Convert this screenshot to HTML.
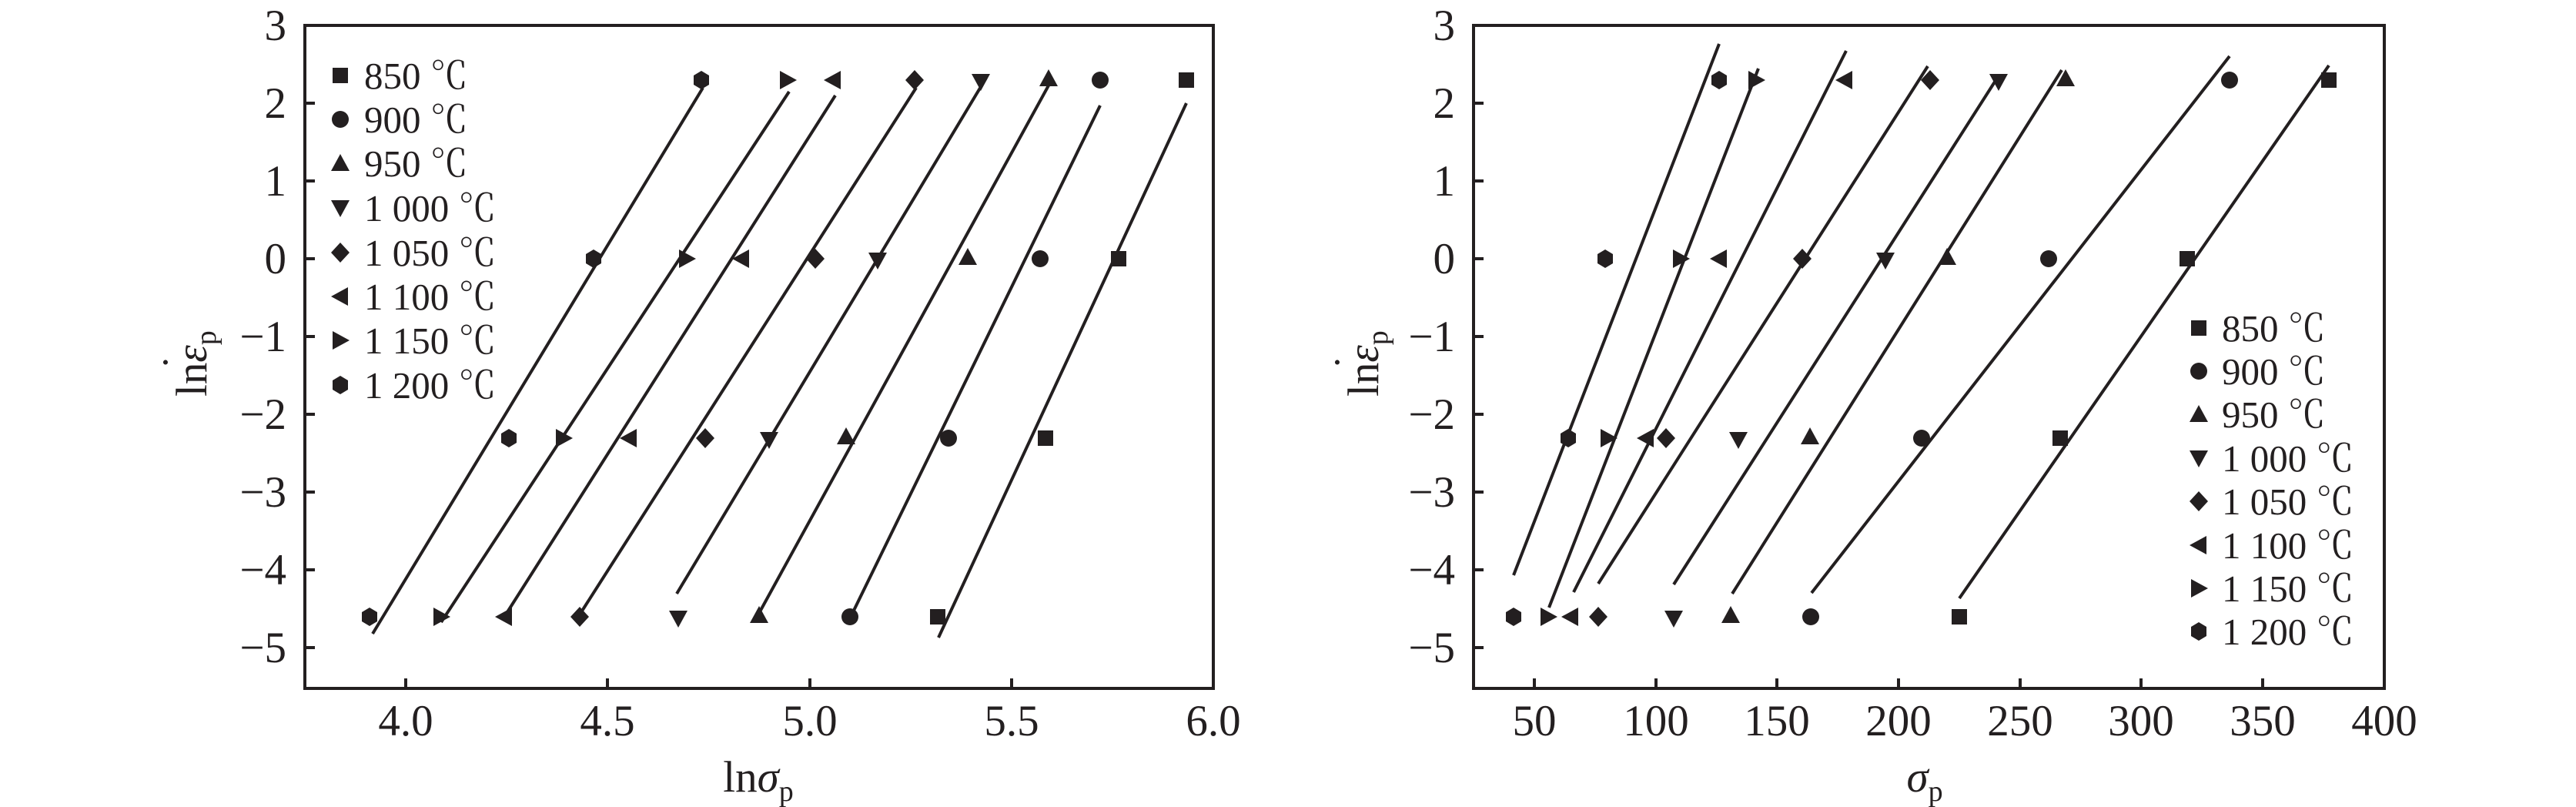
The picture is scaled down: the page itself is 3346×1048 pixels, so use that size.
<!DOCTYPE html>
<html><head><meta charset="utf-8"><style>
html,body{margin:0;padding:0;background:#fff}
svg{display:block}
text{font-family:"Liberation Serif","Noto Serif CJK SC",serif;fill:#231f20}
</style></head><body>
<svg width="3346" height="1048" viewBox="0 0 3346 1048" xmlns="http://www.w3.org/2000/svg">
<defs>
<rect id="sq" x="-10" y="-10" width="20" height="20" fill="#231f20"/>
<circle id="ci" r="11" fill="#231f20"/>
<polygon id="tu" points="0,-12 12,10 -12,10" fill="#231f20"/>
<polygon id="td" points="0,12 12,-10 -12,-10" fill="#231f20"/>
<polygon id="di" points="0,-13 12,0 0,13 -12,0" fill="#231f20"/>
<polygon id="tl" points="-12,0 10,-12 10,12" fill="#231f20"/>
<polygon id="tr" points="12,0 -10,-12 -10,12" fill="#231f20"/>
<polygon id="hx" points="0,-12 10,-6 10,6 0,12 -10,6 -10,-6" fill="#231f20"/>
</defs>
<g stroke="#231f20" stroke-width="4" fill="none">
<rect x="396" y="33" width="1180" height="861"/>
<rect x="1914" y="33" width="1183" height="861"/>
<path d="M396 33h13M396 134h13M396 235h13M396 336h13M396 437h13M396 538h13M396 639h13M396 740h13M396 841h13"/>
<path d="M527 894v-13M789 894v-13M1052 894v-13M1314 894v-13"/>
<path d="M1914 33h13M1914 134h13M1914 235h13M1914 336h13M1914 437h13M1914 538h13M1914 639h13M1914 740h13M1914 841h13"/>
<path d="M1993 894v-13M2151 894v-13M2308 894v-13M2466 894v-13M2624 894v-13M2781 894v-13M2939 894v-13"/>
<path d="M484 823L913 114M573 808L1025 119M657 798L1085 124M753 798L1190 114M879 771L1281 101M985 798L1362 111M1104 803L1429 137M1219 828L1541 134"/>
<path d="M1966 747L2233 57M2012 789L2284 89M2044 769L2398 66M2076 758L2504 86M2174 759L2595 100M2250 771L2678 91M2353 770L2896 73M2545 777L3025 85"/>
</g>
<g font-size="57" text-anchor="end">
<text x="372" y="52">3</text><text x="372" y="153">2</text><text x="372" y="254">1</text><text x="372" y="355">0</text>
<text x="372" y="456">−1</text><text x="372" y="557">−2</text><text x="372" y="658">−3</text><text x="372" y="759">−4</text><text x="372" y="860">−5</text>
<text x="1890" y="52">3</text><text x="1890" y="153">2</text><text x="1890" y="254">1</text><text x="1890" y="355">0</text>
<text x="1890" y="456">−1</text><text x="1890" y="557">−2</text><text x="1890" y="658">−3</text><text x="1890" y="759">−4</text><text x="1890" y="860">−5</text>
</g>
<g font-size="57" text-anchor="middle">
<text x="527" y="955">4.0</text><text x="789" y="955">4.5</text><text x="1052" y="955">5.0</text><text x="1314" y="955">5.5</text><text x="1576" y="955">6.0</text>
<text x="1993" y="955">50</text><text x="2151" y="955">100</text><text x="2308" y="955">150</text><text x="2466" y="955">200</text><text x="2624" y="955">250</text><text x="2781" y="955">300</text><text x="2939" y="955">350</text><text x="3097" y="955">400</text>
<text x="985" y="1028">ln<tspan font-style="italic">σ</tspan><tspan font-size="38" dy="12">p</tspan></text>
<text x="2500" y="1028"><tspan font-style="italic">σ</tspan><tspan font-size="38" dy="12">p</tspan></text>
</g>
<g transform="translate(268,470) rotate(-90)"><text font-size="57" x="-45" y="0">ln<tspan font-style="italic">ε</tspan><tspan font-size="38" dy="12">p</tspan></text><text font-size="57" x="-10" y="-18">˙</text></g>
<g transform="translate(1790,470) rotate(-90)"><text font-size="57" x="-45" y="0">ln<tspan font-style="italic">ε</tspan><tspan font-size="38" dy="12">p</tspan></text><text font-size="57" x="-10" y="-18">˙</text></g>
<use href="#sq" x="1541" y="104"/><use href="#sq" x="1453" y="336"/><use href="#sq" x="1358" y="569"/><use href="#sq" x="1218" y="801"/>
<use href="#ci" x="1429" y="104"/><use href="#ci" x="1351" y="336"/><use href="#ci" x="1232" y="569"/><use href="#ci" x="1104" y="801"/>
<use href="#tu" x="1362" y="102"/><use href="#tu" x="1257" y="334"/><use href="#tu" x="1099" y="567"/><use href="#tu" x="986" y="799"/>
<use href="#td" x="1274" y="106"/><use href="#td" x="1140" y="338"/><use href="#td" x="999" y="571"/><use href="#td" x="881" y="803"/>
<use href="#di" x="1188" y="104"/><use href="#di" x="1059" y="336"/><use href="#di" x="916" y="569"/><use href="#di" x="753" y="801"/>
<use href="#tl" x="1082" y="104"/><use href="#tl" x="963" y="336"/><use href="#tl" x="817" y="569"/><use href="#tl" x="655" y="801"/>
<use href="#tr" x="1023" y="104"/><use href="#tr" x="892" y="336"/><use href="#tr" x="732" y="569"/><use href="#tr" x="573" y="801"/>
<use href="#hx" x="911" y="104"/><use href="#hx" x="771" y="336"/><use href="#hx" x="661" y="569"/><use href="#hx" x="480" y="801"/>
<use href="#sq" x="3025" y="104"/><use href="#sq" x="2841" y="336"/><use href="#sq" x="2676" y="569"/><use href="#sq" x="2545" y="801"/>
<use href="#ci" x="2896" y="104"/><use href="#ci" x="2661" y="336"/><use href="#ci" x="2496" y="569"/><use href="#ci" x="2352" y="801"/>
<use href="#tu" x="2683" y="102"/><use href="#tu" x="2529" y="334"/><use href="#tu" x="2351" y="567"/><use href="#tu" x="2248" y="799"/>
<use href="#td" x="2596" y="106"/><use href="#td" x="2449" y="338"/><use href="#td" x="2258" y="571"/><use href="#td" x="2174" y="803"/>
<use href="#di" x="2507" y="104"/><use href="#di" x="2341" y="336"/><use href="#di" x="2164" y="569"/><use href="#di" x="2076" y="801"/>
<use href="#tl" x="2396" y="104"/><use href="#tl" x="2233" y="336"/><use href="#tl" x="2138" y="569"/><use href="#tl" x="2040" y="801"/>
<use href="#tr" x="2281" y="104"/><use href="#tr" x="2183" y="336"/><use href="#tr" x="2089" y="569"/><use href="#tr" x="2011" y="801"/>
<use href="#hx" x="2233" y="104"/><use href="#hx" x="2085" y="336"/><use href="#hx" x="2037" y="569"/><use href="#hx" x="1966" y="801"/>
<g font-size="49">
<use href="#sq" x="442" y="98"/><text x="473" y="115">850 ℃</text>
<use href="#ci" x="442" y="155"/><text x="473" y="172">900 ℃</text>
<use href="#tu" x="442" y="212"/><text x="473" y="229">950 ℃</text>
<use href="#td" x="442" y="270"/><text x="473" y="287">1 000 ℃</text>
<use href="#di" x="442" y="328"/><text x="473" y="345">1 050 ℃</text>
<use href="#tl" x="442" y="385"/><text x="473" y="402">1 100 ℃</text>
<use href="#tr" x="442" y="442"/><text x="473" y="459">1 150 ℃</text>
<use href="#hx" x="442" y="500"/><text x="473" y="517">1 200 ℃</text>
</g>
<g font-size="49">
<use href="#sq" x="2856" y="426"/><text x="2886" y="443">850 ℃</text>
<use href="#ci" x="2856" y="482"/><text x="2886" y="499">900 ℃</text>
<use href="#tu" x="2856" y="538"/><text x="2886" y="555">950 ℃</text>
<use href="#td" x="2856" y="595"/><text x="2886" y="612">1 000 ℃</text>
<use href="#di" x="2856" y="651"/><text x="2886" y="668">1 050 ℃</text>
<use href="#tl" x="2856" y="708"/><text x="2886" y="725">1 100 ℃</text>
<use href="#tr" x="2856" y="764"/><text x="2886" y="781">1 150 ℃</text>
<use href="#hx" x="2856" y="820"/><text x="2886" y="837">1 200 ℃</text>
</g>
</svg>
</body></html>
